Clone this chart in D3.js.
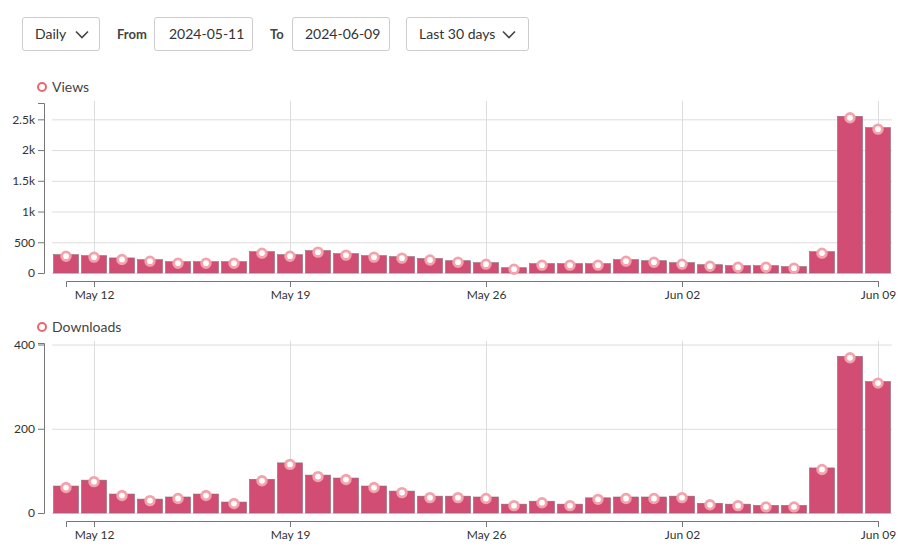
<!DOCTYPE html>
<html>
<head>
<meta charset="utf-8">
<script src="https://cdn.jsdelivr.net/npm/d3@7"></script>
<style>
  body { margin: 0; background: #fff; font-family: Lato, "Open Sans", sans-serif; color: #333; }
  .ctrl { position: absolute; top: 17px; height: 34px; box-sizing: border-box;
          border: 1px solid #ccc; border-radius: 3px; font-size: 14px; line-height: 32px;
          padding-left: 12px; background: #fff; }
  .lbl { position: absolute; top: 17px; line-height: 34px; font-size: 13px; font-weight: bold; color: #444; }
  .ctrl svg { position: absolute; top: 12px; }
  #chart { position: absolute; left: 0; top: 0; }
</style>
</head>
<body>
<div class="ctrl" style="left:22px;width:78px">Daily<svg style="left:52px" width="14" height="9"><path d="M1,1.5 L7,7.5 L13,1.5" fill="none" stroke="#444" stroke-width="1.6"/></svg></div>
<div class="lbl" style="left:117px">From</div>
<div class="ctrl" style="left:154px;width:99px;padding-left:14px">2024-05-11</div>
<div class="lbl" style="left:270px">To</div>
<div class="ctrl" style="left:292px;width:98px;padding-left:12px">2024-06-09</div>
<div class="ctrl" style="left:406px;width:123px">Last 30 days<svg style="left:95px" width="14" height="9"><path d="M1,1.5 L7,7.5 L13,1.5" fill="none" stroke="#444" stroke-width="1.6"/></svg></div>
<div id="chart"></div>
<script>
// days shown
const days = [
  "2024-05-11","2024-05-12","2024-05-13","2024-05-14","2024-05-15","2024-05-16","2024-05-17",
  "2024-05-18","2024-05-19","2024-05-20","2024-05-21","2024-05-22","2024-05-23","2024-05-24",
  "2024-05-25","2024-05-26","2024-05-27","2024-05-28","2024-05-29","2024-05-30","2024-05-31",
  "2024-06-01","2024-06-02","2024-06-03","2024-06-04","2024-06-05","2024-06-06","2024-06-07",
  "2024-06-08","2024-06-09"
];

const views = [298, 282, 245, 217, 184, 184, 184, 347, 298, 364, 315, 282, 266, 236, 200,
               168, 86, 152, 152, 152, 217, 200, 168, 135, 119, 119, 103, 347, 2549, 2365];

const downloads = [64, 78, 45, 33, 38, 45, 26, 80, 119, 90, 83, 64, 52, 40, 40,
                   38, 21, 28, 21, 36, 38, 38, 40, 23, 21, 18, 18, 107, 372, 312];

const panels = [
  { name: "Views", values: views, ticks: 5, top: 103 },
  { name: "Downloads", values: downloads, ticks: 2, top: 343 }
];

const width = 916, height = 556;
const left = 52, right = 892, plotH = 170;
const parse = d3.timeParse("%Y-%m-%d");
const dates = days.map(parse);
const step = (right - left) / dates.length;
const barW = step - 3;

const svg = d3.select("#chart").append("svg")
    .attr("width", width)
    .attr("height", height)
    .style("font-family", "Lato, 'Open Sans', sans-serif");

const x = d3.scaleTime()
    .domain(d3.extent(dates))
    .range([left + step / 2, right - step / 2]);

const xTicks = d3.timeWeek.every(1).range(dates[0], d3.timeDay.offset(dates[dates.length - 1], 1));

panels.forEach(p => {
    const bottom = p.top + plotH;
    const y = d3.scaleLinear()
        .domain([0, d3.max(p.values) * 1.085])
        .range([bottom, p.top]);

    const g = svg.append("g");

    // legend
    g.append("circle")
        .attr("cx", 42).attr("cy", p.top - 16)
        .attr("r", 4)
        .attr("fill", "#fff")
        .attr("stroke", "#e8676b")
        .attr("stroke-width", 2);
    g.append("text")
        .attr("x", 52).attr("y", p.top - 16)
        .attr("dy", "0.35em")
        .attr("font-size", 14)
        .attr("fill", "#444")
        .text(p.name);

    // grid
    g.append("g").selectAll("line.h")
        .data(y.ticks(p.ticks))
        .join("line")
        .attr("x1", left).attr("x2", right)
        .attr("y1", d => y(d) + 0.5).attr("y2", d => y(d) + 0.5)
        .attr("stroke", "#ddd");
    g.append("g").selectAll("line.v")
        .data(xTicks)
        .join("line")
        .attr("x1", d => x(d) + 0.5).attr("x2", d => x(d) + 0.5)
        .attr("y1", p.top - 2).attr("y2", bottom)
        .attr("stroke", "#ddd");

    // bars
    g.append("g").selectAll("rect")
        .data(p.values)
        .join("rect")
        .attr("x", (d, i) => x(dates[i]) - barW / 2)
        .attr("y", d => y(d))
        .attr("width", barW)
        .attr("height", d => bottom - y(d))
        .attr("fill", "#d24d73")
        .attr("stroke", "#8a6a75")
        .attr("stroke-width", 0.6);

    // point markers
    g.append("g").selectAll("circle")
        .data(p.values)
        .join("circle")
        .attr("cx", (d, i) => x(dates[i]))
        .attr("cy", d => y(d) + 1.5)
        .attr("r", 4.3)
        .attr("fill", "#fff")
        .attr("stroke", "#f4a3ad")
        .attr("stroke-width", 2.8);

    // axes
    const yAxis = g.append("g")
        .attr("transform", `translate(${left - 8},0)`)
        .call(d3.axisLeft(y).ticks(p.ticks).tickFormat(d3.format("~s")));
    const xAxis = g.append("g")
        .attr("transform", `translate(0,${bottom + 8})`)
        .call(d3.axisBottom(x).tickValues(xTicks).tickFormat(d3.timeFormat("%b %d")));

    [yAxis, xAxis].forEach(a => {
        a.attr("font-family", "Lato, 'Open Sans', sans-serif").attr("font-size", 12);
        a.selectAll("path, line").attr("stroke", "#777");
        a.selectAll("text").attr("fill", "#333");
    });
});
</script>
</body>
</html>
